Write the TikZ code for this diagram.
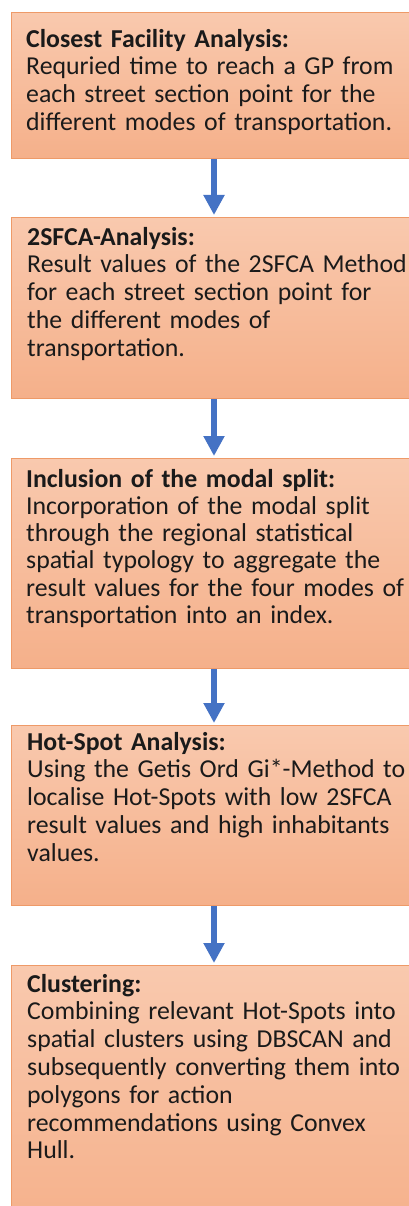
\documentclass[tikz,border=0pt]{standalone}
\usepackage{fontspec}
\setmainfont{Carlito}
\usetikzlibrary{arrows.meta}
\definecolor{boxtop}{HTML}{F9C9AE}
\definecolor{boxbottom}{HTML}{F5B08A}
\definecolor{boxline}{HTML}{EE9A68}
\definecolor{flowblue}{HTML}{4472C4}
\definecolor{textcol}{HTML}{1A1A1A}
\begin{document}
\begin{tikzpicture}[x=1pt,y=-1pt,
  stepbox/.style={rectangle, draw=boxline, line width=1.2pt,
    top color=boxtop, bottom color=boxbottom,
    inner sep=0pt, anchor=north west, minimum width=420pt},
  boxtext/.style={anchor=north west, inner sep=0pt, text width=395pt,
    align=left, text=textcol, font=\fontsize{25.8}{27.8}\selectfont},
  flow/.style={draw=flowblue, line width=6.5pt, shorten >=2pt,
    -{Triangle[width=20pt,length=20pt]}}]
\useasboundingbox (0,0) rectangle (409,1206);
\clip (0,0) rectangle (409,1206);

% process boxes (they run past the right and bottom page edges)
\node[stepbox, minimum height=146pt] (b1) at (11,12) {};
\node[stepbox, minimum height=181pt] (b2) at (11,217) {};
\node[stepbox, minimum height=210pt] (b3) at (11,458) {};
\node[stepbox, minimum height=180pt] (b4) at (11,725) {};
\node[stepbox, minimum height=270pt] (b5) at (11,965) {};

% box texts
\node[boxtext] (t1) at (26,27.5) {\strut\textbf{Closest Facility Analysis:}\\
  Requried time to reach a GP from\\
  each street section point for the\\
  different modes of transportation.};
\node[boxtext] (t2) at (27,225.5) {\strut\textbf{2SFCA-Analysis:}\\
  Result values of the 2SFCA Method\\
  for each street section point for\\
  the different modes of\\
  transportation.};
\node[boxtext, font=\fontsize{25.8}{27.2}\selectfont] (t3) at (26,468) {\strut\textbf{Inclusion of the modal split:}\\
  Incorporation of the modal split\\
  through the regional statistical\\
  spatial typology to aggregate the\\
  result values for the four modes of\\
  transportation into an index.};
\node[boxtext] (t4) at (27,730.5) {\strut\textbf{Hot-Spot Analysis:}\\
  Using the Getis Ord Gi*-Method to\\
  localise Hot-Spots with low 2SFCA\\
  result values and high inhabitants\\
  values.};
\node[boxtext] (t5) at (27,972.5) {\strut\textbf{Clustering:}\\
  Combining relevant Hot-Spots into\\
  spatial clusters using DBSCAN and\\
  subsequently converting them into\\
  polygons for action\\
  recommendations using Convex\\
  Hull.};

% flow arrows
\coordinate (ax) at (214,0);
\draw[flow] (b1.south -| ax) -- (b2.north -| ax);
\draw[flow] (b2.south -| ax) -- (b3.north -| ax);
\draw[flow] (b3.south -| ax) -- (b4.north -| ax);
\draw[flow] (b4.south -| ax) -- (b5.north -| ax);
\end{tikzpicture}
\end{document}
